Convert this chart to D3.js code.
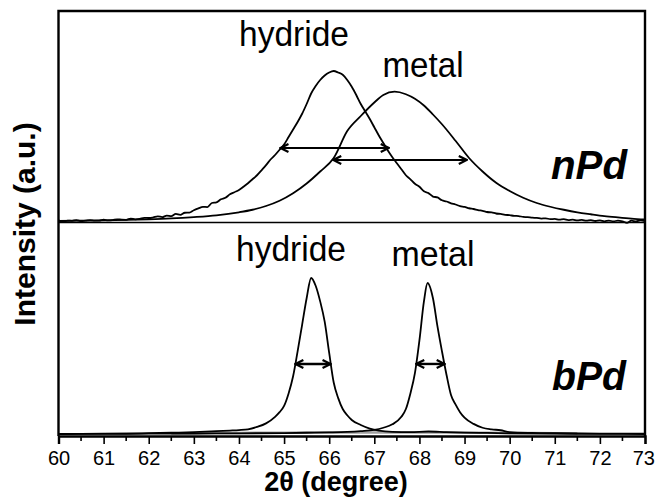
<!DOCTYPE html>
<html>
<head>
<meta charset="utf-8">
<script src="https://cdn.jsdelivr.net/npm/d3@7"></script>
<style>
  body { margin: 0; background: #fff; }
  text { font-family: "Liberation Sans", Arial, sans-serif; fill: #000; }
</style>
</head>
<body>
<svg width="655" height="497"></svg>
<script>
// XRD peaks of nano (top) and bulk (bottom) Pd, hydride vs metal

// x axis ticks
var xTicks = [60, 61, 62, 63, 64, 65, 66, 67, 68, 69, 70, 71, 72, 73];

// nPd hydride [2theta, intensity] (noisy trace)
var nHydride = [
  [60.0, 0.004], [60.1, -0.004], [60.2, 0.003], [60.3, 0.001], [60.4, 0.006], [60.5, -0.002],
  [60.6, 0.002], [60.7, 0.006], [60.8, 0.003], [60.9, 0.002], [61.0, 0.009], [61.1, 0.004],
  [61.2, 0.006], [61.3, 0.011], [61.4, 0.009], [61.5, 0.008], [61.6, 0.016], [61.7, 0.011],
  [61.8, 0.014], [61.9, 0.021], [62.0, 0.02], [62.1, 0.024], [62.2, 0.031], [62.3, 0.026],
  [62.4, 0.036], [62.5, 0.033], [62.6, 0.047], [62.7, 0.041], [62.8, 0.055], [62.9, 0.056],
  [63.0, 0.072], [63.1, 0.084], [63.2, 0.094], [63.3, 0.093], [63.4, 0.12], [63.5, 0.124],
  [63.6, 0.145], [63.7, 0.155], [63.8, 0.178], [63.9, 0.192], [64.0, 0.206], [64.1, 0.228],
  [64.2, 0.252], [64.3, 0.278], [64.4, 0.305], [64.5, 0.338], [64.6, 0.372], [64.7, 0.41],
  [64.8, 0.44], [64.9, 0.475], [65.0, 0.51], [65.1, 0.56], [65.2, 0.61], [65.3, 0.66],
  [65.4, 0.715], [65.5, 0.78], [65.6, 0.85], [65.7, 0.9], [65.8, 0.94], [65.9, 0.97],
  [66.0, 0.99], [66.1, 1.0], [66.2, 0.99], [66.3, 0.975], [66.4, 0.94], [66.5, 0.895],
  [66.6, 0.84], [66.7, 0.78], [66.8, 0.73], [66.9, 0.68], [67.0, 0.625], [67.1, 0.57],
  [67.2, 0.52], [67.3, 0.47], [67.4, 0.425], [67.5, 0.385], [67.6, 0.345], [67.7, 0.305],
  [67.8, 0.278], [67.9, 0.248], [68.0, 0.228], [68.1, 0.198], [68.2, 0.186], [68.3, 0.163],
  [68.4, 0.157], [68.5, 0.138], [68.6, 0.13], [68.7, 0.118], [68.8, 0.11], [68.9, 0.099],
  [69.0, 0.094], [69.1, 0.085], [69.2, 0.08], [69.3, 0.073], [69.4, 0.068], [69.5, 0.06],
  [69.6, 0.057], [69.7, 0.05], [69.8, 0.047], [69.9, 0.041], [70.0, 0.039], [70.1, 0.034],
  [70.2, 0.033], [70.3, 0.027], [70.4, 0.026], [70.5, 0.022], [70.6, 0.021], [70.7, 0.016],
  [70.8, 0.018], [70.9, 0.012], [71.0, 0.014], [71.1, 0.009], [71.2, 0.012], [71.3, 0.006],
  [71.4, 0.009], [71.5, 0.004], [71.6, 0.007], [71.7, 0.002], [71.8, 0.006], [71.9, 0.0],
  [72.0, 0.004], [72.1, -0.002], [72.2, 0.003], [72.3, -0.003], [72.4, 0.003], [72.5, -0.002],
  [72.6, -0.012], [72.7, 0.002], [72.8, -0.003], [72.9, 0.004], [73.0, 0.0]
];

// nPd metal
var nMetal = [
  [60.0, 0.0], [60.5, 0.002], [61.0, 0.004], [61.5, 0.007], [62.0, 0.011], [62.5, 0.017],
  [63.0, 0.026], [63.5, 0.038], [64.0, 0.058], [64.3, 0.075], [64.6, 0.1], [64.9, 0.135],
  [65.2, 0.185], [65.5, 0.25], [65.8, 0.33], [66.1, 0.42], [66.4, 0.6], [66.7, 0.7],
  [67.0, 0.79], [67.2, 0.84], [67.45, 0.862], [67.7, 0.845], [67.9, 0.815], [68.1, 0.77],
  [68.3, 0.71], [68.5, 0.645], [68.8, 0.535], [69.1, 0.42], [69.4, 0.33], [69.7, 0.255],
  [70.0, 0.2], [70.3, 0.155], [70.6, 0.12], [70.9, 0.095], [71.2, 0.075], [71.5, 0.058],
  [71.8, 0.045], [72.1, 0.033], [72.4, 0.024], [72.7, 0.016], [73.0, 0.01]
];

// bPd hydride
var bHydride = [
  [60.0, 0.0], [60.5, 0.001], [61.0, 0.002], [61.5, 0.003], [62.0, 0.005], [62.5, 0.008],
  [63.0, 0.012], [63.5, 0.018], [63.8, 0.022], [64.0, 0.025], [64.2, 0.03], [64.4, 0.045],
  [64.6, 0.068], [64.8, 0.11], [64.9, 0.14], [65.0, 0.18], [65.1, 0.26], [65.2, 0.37],
  [65.3, 0.53], [65.4, 0.7], [65.5, 0.87], [65.6, 1.0], [65.7, 0.95], [65.8, 0.85],
  [65.9, 0.72], [66.0, 0.52], [66.1, 0.33], [66.2, 0.23], [66.3, 0.16], [66.4, 0.12],
  [66.5, 0.09], [66.7, 0.058], [66.9, 0.035], [67.1, 0.022], [67.4, 0.014], [67.8, 0.012],
  [68.2, 0.016], [68.6, 0.012], [69.0, 0.009], [69.5, 0.007], [70.0, 0.004], [71.0, 0.002],
  [72.0, 0.001], [73.0, 0.0]
];

// bPd metal
var bMetal = [
  [60.0, 0.0], [61.0, 0.001], [62.0, 0.002], [63.0, 0.003], [64.0, 0.004], [65.0, 0.006],
  [65.5, 0.008], [66.0, 0.010], [66.4, 0.013], [66.7, 0.018], [67.0, 0.026], [67.2, 0.04],
  [67.4, 0.062], [67.6, 0.11], [67.7, 0.16], [67.8, 0.26], [67.9, 0.39], [68.0, 0.6],
  [68.1, 0.85], [68.18, 0.968], [68.3, 0.87], [68.4, 0.69], [68.5, 0.53], [68.6, 0.38],
  [68.7, 0.25], [68.8, 0.19], [68.9, 0.14], [69.0, 0.105], [69.2, 0.065], [69.4, 0.04],
  [69.6, 0.03], [69.8, 0.024], [70.0, 0.012], [70.5, 0.007], [71.0, 0.005], [72.0, 0.003],
  [73.0, 0.002]
];

// faint grey background trace near the bPd baseline
var bBackground = [
  [62.5, 0.004], [63.5, 0.006], [64.5, 0.008], [65.5, 0.009], [66.5, 0.01], [67.5, 0.01],
  [68.5, 0.009], [69.5, 0.008], [70.5, 0.006], [71.5, 0.004]
];

// FWHM arrows: [from, to, level]
var nArrows = [[64.92, 67.32, 0.487], [66.09, 69.05, 0.407]];
var bArrows = [[65.25, 66.03, 0.449], [67.93, 68.56, 0.449]];

// text labels: [text, x, y, textLength]
var peakLabels = [
    ["hydride", 294, 46, 110], ["metal", 423, 77, 81],
    ["hydride", 291, 261, 110], ["metal", 433, 266, 83]
];
var sampleLabels = [["nPd", 627, 179, 76], ["bPd", 626, 390, 74]];

var svg = d3.select("svg");

var plotLeft = 58.5, plotRight = 645, plotTop = 11, plotBottom = 436, mid = 222.5;

var x = d3.scaleLinear().domain([60, 73]).range([plotLeft, plotRight]);
var yTop = d3.scaleLinear().domain([0, 1]).range([221, 71]);
var yBot = d3.scaleLinear().domain([0, 1]).range([434, 278]);

// arrow heads
var defs = svg.append("defs");
defs.append("marker")
    .attr("id", "head")
    .attr("viewBox", "0 0 10 10")
    .attr("refX", 9).attr("refY", 5)
    .attr("markerWidth", 10).attr("markerHeight", 10)
    .attr("markerUnits", "userSpaceOnUse")
    .attr("orient", "auto-start-reverse")
  .append("path")
    .attr("d", "M1,1 L9,5 L1,9")
    .attr("fill", "none")
    .attr("stroke", "#000")
    .attr("stroke-width", 2.2);

// divider between panels
svg.append("line")
    .attr("x1", plotLeft).attr("x2", plotRight)
    .attr("y1", mid).attr("y2", mid)
    .attr("stroke", "#000").attr("stroke-width", 1.5);

var drawCurve = function(data, yScale, color, w) {
    var line = d3.line()
        .x(function(d) { return x(d[0]); })
        .y(function(d) { return yScale(d[1]); })
        .curve(d3.curveMonotoneX);
    svg.append("path")
        .datum(data)
        .attr("d", line)
        .attr("fill", "none")
        .attr("stroke", color)
        .attr("stroke-width", w)
        .attr("stroke-linejoin", "round");
};

drawCurve(bBackground, yBot, "#a0a0a0", 2.5);
drawCurve(nHydride, yTop, "#000", 1.8);
drawCurve(nMetal, yTop, "#000", 1.8);
drawCurve(bHydride, yBot, "#000", 1.8);
drawCurve(bMetal, yBot, "#000", 1.8);

var drawArrows = function(arrows, yScale, w) {
    svg.selectAll(null)
        .data(arrows)
        .enter().append("line")
        .attr("x1", function(d) { return x(d[0]); })
        .attr("x2", function(d) { return x(d[1]); })
        .attr("y1", function(d) { return yScale(d[2]); })
        .attr("y2", function(d) { return yScale(d[2]); })
        .attr("stroke", "#000")
        .attr("stroke-width", w)
        .attr("marker-start", "url(#head)")
        .attr("marker-end", "url(#head)");
};

drawArrows(nArrows, yTop, 2);
drawArrows(bArrows, yBot, 2.4);

// frame (left, top, right)
svg.append("path")
    .attr("d", "M" + plotLeft + "," + plotBottom + "V" + plotTop + "H" + plotRight + "V" + plotBottom)
    .attr("fill", "none")
    .attr("stroke", "#000")
    .attr("stroke-width", 2.4);

// x axis
var xAxis = d3.axisBottom(x)
    .tickValues(xTicks)
    .tickSize(8)
    .tickPadding(7)
    .tickFormat(d3.format("d"));

var gx = svg.append("g")
    .attr("transform", "translate(0," + plotBottom + ")")
    .call(xAxis);

gx.select(".domain").attr("stroke-width", 2.4);
gx.selectAll(".tick line").attr("stroke-width", 1.6);
gx.selectAll(".tick text")
    .attr("font-size", 20)
    .attr("font-family", "Liberation Sans, Arial, sans-serif");

// last label sits at the window edge, keep it inside
gx.selectAll(".tick text")
    .filter(function(d) { return d === 73; })
    .attr("text-anchor", "end")
    .attr("dx", 9.5);

// minor ticks
var minorTicks = xTicks.slice(0, -1).map(function(d) { return d + 0.5; });
gx.selectAll(".minor")
    .data(minorTicks)
    .enter().append("line")
    .attr("class", "minor")
    .attr("x1", function(d) { return x(d); })
    .attr("x2", function(d) { return x(d); })
    .attr("y1", 0).attr("y2", 5)
    .attr("stroke", "#000")
    .attr("stroke-width", 1.6);

// axis titles
svg.append("text")
    .attr("x", 336).attr("y", 491)
    .attr("text-anchor", "middle")
    .attr("font-size", 27)
    .attr("font-weight", "bold")
    .text("2θ (degree)");

svg.append("text")
    .attr("transform", "translate(35,224) rotate(-90)")
    .attr("text-anchor", "middle")
    .attr("font-size", 30)
    .attr("font-weight", "bold")
    .text("Intensity (a.u.)");

// peak labels
svg.selectAll(null)
    .data(peakLabels)
    .enter().append("text")
    .attr("x", function(d) { return d[1] - d[3] / 2; })
    .attr("y", function(d) { return d[2]; })
    .attr("textLength", function(d) { return d[3]; })
    .attr("lengthAdjust", "spacingAndGlyphs")
    .attr("font-size", 35)
    .text(function(d) { return d[0]; });

// sample names
svg.selectAll(null)
    .data(sampleLabels)
    .enter().append("text")
    .attr("x", function(d) { return d[1] - d[3]; })
    .attr("y", function(d) { return d[2]; })
    .attr("textLength", function(d) { return d[3]; })
    .attr("lengthAdjust", "spacingAndGlyphs")
    .attr("font-size", 41)
    .attr("font-weight", "bold")
    .attr("font-style", "italic")
    .text(function(d) { return d[0]; });
</script>
</body>
</html>
